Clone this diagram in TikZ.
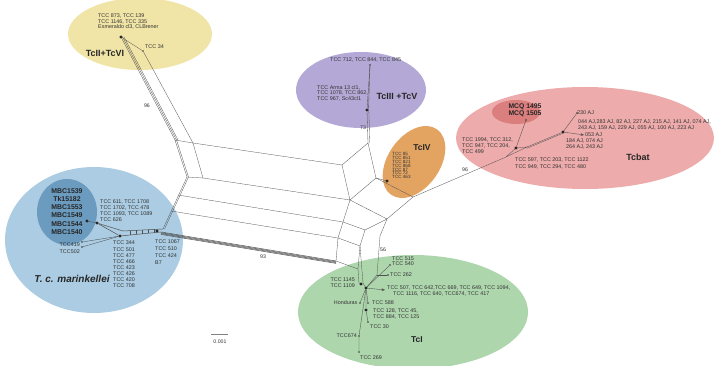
\documentclass[tikz,border=0pt]{standalone}
\usepackage{fontspec}
\setmainfont{Liberation Sans}
\usetikzlibrary{shapes.geometric,arrows.meta}
\definecolor{tcyellow}{HTML}{F0E4A6}
\definecolor{tcpurple}{HTML}{B4A9D6}
\definecolor{tcorange}{HTML}{E3A462}
\definecolor{tcpink}{HTML}{EDABAB}
\definecolor{tcrose}{HTML}{DB7E7E}
\definecolor{tcblue}{HTML}{ABCCE2}
\definecolor{tcnavy}{HTML}{6B9BBF}
\definecolor{tcgreen}{HTML}{AED6AD}
\definecolor{netgray}{HTML}{505050}
\definecolor{txtgray}{HTML}{333333}
\begin{document}
\begin{tikzpicture}[x=1pt, y=-1pt,
    cloud/.style={ellipse, inner sep=0pt},
    net/.style={draw=netgray, line width=0.3pt},
    bundle/.style={draw=netgray, line width=0.5pt},
    leaf/.style={draw=netgray, line width=0.35pt},
    tip/.style={leaf, -{Stealth[length=3.4pt, width=2.6pt]}},
    dot/.style={circle, fill=black!80, inner sep=0pt, minimum size=1.6pt},
    blob/.style={star, star points=6, fill=black!85, inner sep=0pt, minimum size=3.4pt},
    lbl/.style={font=\fontsize{5.4}{5.5}\selectfont, text=txtgray, inner sep=0pt, align=left},
    grp/.style={font=\bfseries\fontsize{9}{9}\selectfont, text=black!85, inner sep=0pt},
    boot/.style={font=\fontsize{5.2}{5.2}\selectfont, text=txtgray, inner sep=0pt},
    ]
\useasboundingbox (0,0) rectangle (716,366);
\node[cloud, fill=tcyellow, minimum width=144pt, minimum height=72pt] (TcIIcloud) at (140,34) {};
\node[cloud, fill=tcpurple, minimum width=130pt, minimum height=76pt] (TcIIIcloud) at (361,90) {};
\node[cloud, fill=tcorange, minimum width=80pt, minimum height=52pt, rotate=55] (TcIVcloud) at (414,162) {};
\node[cloud, fill=tcpink, minimum width=258pt, minimum height=102pt] (Tcbatcloud) at (585,138) {};
\node[cloud, fill=tcrose, minimum width=48pt, minimum height=24pt] (MCQcloud) at (516,112) {};
\node[cloud, fill=tcblue, minimum width=178pt, minimum height=146pt] (Tcmcloud) at (94,240) {};
\node[cloud, fill=tcnavy, minimum width=60pt, minimum height=66pt] (MBCcloud) at (67,212) {};
\node[cloud, fill=tcgreen, minimum width=230pt, minimum height=114pt] (TcIcloud) at (413,312) {};
\coordinate (bA) at (175,140);
\coordinate (bB) at (193,143);
\coordinate (bC) at (187,177);
\coordinate (bD) at (203,178);
\coordinate (r1) at (342,165);
\coordinate (r2) at (350,200);
\coordinate (r3) at (343,222);
\coordinate (r4) at (338,238);
\coordinate (r5) at (336,261);
\coordinate (l3) at (178,195);
\coordinate (l4) at (171,211);
\coordinate (mR) at (163,229);
\coordinate (mB) at (161,232);
\coordinate (r1u) at (368,143);
\coordinate (r2u) at (376,178);
\coordinate (bt) at (413,197);
\coordinate (r2b) at (387,219);
\coordinate (r3d) at (365,230);
\coordinate (r4d) at (360,246);
\coordinate (r5d) at (358,269);
\coordinate (s56) at (380,236);
\coordinate (c56) at (377,275);
\coordinate (ta) at (359,283);
\coordinate (tb) at (363,283);
\node[blob] (yN) at (121,37) {};
\node[dot] (y34) at (143,51) {};
\draw[net] (yN) -- (bA);
\draw[net] ([xshift=1.5pt]yN.center) -- ([xshift=1.5pt]bA);
\draw[net] ([xshift=3pt]yN.center) -- ([xshift=3pt]bA);
\draw[net] (yN) -- (y34) -- (bB);
\draw[net] (bA) -- (bB) -- (bD) -- (bC) -- cycle;
\draw[net] ([xshift=1.5pt]bA) -- ([xshift=1.5pt]bC);
\draw[net] (bB) -- (r1) -- (r2) -- (bD);
\draw[net] (bC) -- (mR);
\draw[net] ([xshift=1.5pt]bC) -- ([xshift=1.5pt]mR);
\draw[net] (l3) -- (r3);
\draw[net] (l4) -- (r4);
\draw[net] (r2) -- (r3) -- (r4) -- (r5);
\foreach \d in {0pt,-0.8pt,-1.6pt,-2.4pt}
  \draw[bundle] ([yshift=\d]mB) -- ([yshift=\d]r5);
\node[blob] (c3) at (367,110) {};
\node[dot] (l712) at (370,65) {};
\draw[net] (r1) -- (r1u) -- (r2u) -- (r2);
\draw[net] (r1u) -- (c3);
\draw[net] ([xshift=1.8pt]r1u) -- ([xshift=1.8pt]c3.center);
\draw[leaf] (c3) -- (l712);
\draw[leaf] ([xshift=1.5pt]c3.center) -- (l712);
\node[blob] (c4) at (387,181) {};
\draw[net] (r2u) -- (c4);
\draw[net] (r2u) -- (bt) -- (r2b) -- (r2);
\draw[net] (r3) -- (r3d);
\draw[net] (r4) -- (r4d);
\draw[net] (r5) -- (r5d);
\draw[net] (r2b) -- (r3d) -- (r4d) -- (r5d);
\draw[net] (r2b) -- (s56) -- (c56);
\draw[net] (r5d) -- (ta);
\draw[net] (r4d) -- (tb);
\node[blob] (t0) at (366,288) {};
\node[blob] (t1145) at (361,284) {};
\node[dot] (l515) at (390,265) {};
\node[dot] (l262) at (388,275) {};
\coordinate (a507) at (385,290);
\node[dot] (lHond) at (360,303) {};
\node[dot] (l588) at (368,303) {};
\node[blob] (t128) at (366,310) {};
\node[dot] (l30) at (368,322) {};
\node[dot] (l674) at (359,336) {};
\node[dot] (l269) at (359,352) {};
\draw[net] (ta) -- (t1145);
\draw[net] (tb) -- (t0);
\draw[leaf] (c56) -- (t0);
\draw[leaf] (t0) -- (l515);
\draw[leaf] (c56) -- (l262);
\draw[tip] (t0) -- (a507);
\draw[leaf] (t0) -- (lHond);
\draw[leaf] (t0) -- (l588);
\draw[leaf] (t0) -- (t128) -- (l30);
\draw[leaf] (t0) -- (l674) -- (l269);
\coordinate (tb1) at (506,157);
\node[blob] (tb2) at (516,148) {};
\coordinate (tb3) at (527,147);
\node[blob] (tb4) at (563,132) {};
\node[dot] (lmcq) at (526,120) {};
\node[dot] (l230) at (577,113) {};
\coordinate (a053) at (584,135);
\draw[net] (bt) -- (tb1) -- (tb2) -- (tb3) -- (tb1);
\draw[leaf] (tb2) -- (lmcq);
\draw[net] (tb3) -- (tb4);
\draw[net] ([yshift=-1.2pt]tb3) -- ([yshift=-1.2pt]tb4.center);
\draw[leaf] (tb4) -- (l230);
\draw[tip] (tb4) -- (a053);
\node[blob] (mStar) at (87,221) {};
\node[blob] (m1) at (97,223) {};
\coordinate (m2) at (123,231);
\node[blob] (m3) at (120,236) {};
\node[blob] (m1067) at (157,231) {};
\node[dot] (l419) at (82,242) {};
\node[dot] (l502) at (82,247) {};
\draw[net] (mStar) -- (m1);
\draw[bundle] (m1) -- (m2) -- (mR);
\draw[bundle] (m1) -- (m3) -- (mB);
\draw[leaf] (l419) -- (m3);
\draw[leaf] (l502) -- (m3);
\foreach \x in {130,136,142,148,154}
  \draw[net] (\x,{231-2*(\x-123)/40}) -- (\x,{236-4*(\x-120)/41});
\node[lbl, font=\fontsize{5.4}{5.3}\selectfont, anchor=north west] (yTxt) at (98,14) {TCC 873, TCC 139\\TCC 1146, TCC 335\\Esmeraldo cl3, CLBrener};
\node[grp] (yName) at (105,53) {TcII+TcVI};
\node[lbl, anchor=west] (t34) at (145,47) {TCC 34};
\node[lbl, anchor=west] (p712) at (330,60) {TCC 712, TCC 844, TCC 845};
\node[lbl, anchor=north west] (pArma) at (317,85) {TCC Arma 13 cl1,\\TCC 1078, TCC 862,\\TCC 967, Sc43cl1};
\node[grp] (pName) at (397,96) {TcIII +TcV};
\node[grp, font=\bfseries\fontsize{8.5}{8.5}\selectfont] (oName) at (422,148) {TcIV};
\node[lbl, font=\fontsize{4.6}{3.9}\selectfont, anchor=north west] (oTxt) at (392,152) {TCC 85\\TCC 851\\TCC 821\\TCC 868\\TCC 87\\TCC 72\\TCC 463};
\node[font=\bfseries\fontsize{6.8}{7.3}\selectfont, text=black!85, inner sep=0pt, align=center] (mcqTxt) at (525,110.5) {MCQ 1495\\MCQ 1505};
\node[lbl, anchor=west] (b230) at (577,113) {230 AJ};
\node[lbl, font=\fontsize{5.4}{6}\selectfont, anchor=north west] (b044) at (578,120) {044 AJ,283 AJ, 82 AJ, 227 AJ, 215 AJ, 141 AJ, 074 AJ,\\243 AJ, 159 AJ, 229 AJ, 055 AJ, 100 AJ, 223 AJ};
\node[lbl, anchor=west] (b053) at (585,135) {053 AJ};
\node[lbl, font=\fontsize{5.4}{6}\selectfont, anchor=north west] (b184) at (566,139) {184 AJ, 074 AJ\\264 AJ, 243 AJ};
\node[lbl, font=\fontsize{5.4}{6}\selectfont, anchor=north west] (b1994) at (462,138) {TCC 1994, TCC 312,\\TCC 947, TCC 204,\\TCC 499};
\node[lbl, font=\fontsize{5.4}{6.5}\selectfont, anchor=north west] (b597) at (515,158) {TCC 597, TCC 203, TCC 1122\\TCC 949, TCC 294, TCC 480};
\node[grp] (bName) at (638,157) {Tcbat};
\node[font=\bfseries\fontsize{6.9}{8.3}\selectfont, text=black!85, inner sep=0pt, align=center, anchor=north] (mbcTxt) at (67,188) {MBC1539\\Tk15182\\MBC1553\\MBC1549\\MBC1544\\MBC1540};
\node[lbl, font=\fontsize{5.4}{6}\selectfont, anchor=north west] (m611) at (100,200) {TCC 611, TCC 1708\\TCC 1702, TCC 478\\TCC 1093, TCC 1089\\TCC 626};
\node[lbl, font=\fontsize{5.4}{6.5}\selectfont, anchor=north east, align=right] (m419) at (80,243) {TCC419\\TCC502};
\node[lbl, font=\fontsize{5.4}{6.1}\selectfont, anchor=north west] (m344) at (113,241) {TCC 344\\TCC 501\\TCC 477\\TCC 466\\TCC 423\\TCC 426\\TCC 420\\TCC 708};
\node[lbl, font=\fontsize{5.4}{7}\selectfont, anchor=north west] (m1067t) at (155,240) {TCC 1067\\TCC 510\\TCC 424\\B7};
\node[font=\bfseries\itshape\fontsize{10}{10}\selectfont, text=black!85, inner sep=0pt] (mName) at (72,279) {T. c. marinkellei};
\node[lbl, anchor=south west] (i515) at (392,266) {TCC 515\\TCC 540};
\node[lbl, anchor=west] (i262) at (390,275) {TCC 262};
\node[lbl, font=\fontsize{5.4}{6}\selectfont, anchor=north west] (i507) at (387,286) {TCC 507, TCC 642,TCC 669, TCC 649, TCC 1094,\\\hspace*{6pt}TCC 1116, TCC 640, TCC674, TCC 417};
\node[lbl, font=\fontsize{5.4}{6}\selectfont, anchor=north east, align=right] (i1145) at (355,278) {TCC 1145\\TCC 1109};
\node[lbl, anchor=east] (iHond) at (357.5,303) {Honduras};
\node[lbl, anchor=west] (i588) at (372,303) {TCC 588};
\node[lbl, font=\fontsize{5.4}{6}\selectfont, anchor=north west] (i128) at (373,309) {TCC 128, TCC 45,\\TCC 884, TCC 125};
\node[lbl, anchor=west] (i30) at (370,327) {TCC 30};
\node[lbl, anchor=east] (i674) at (357,336) {TCC674};
\node[lbl, anchor=west] (i269) at (360,358) {TCC 269};
\node[grp, font=\bfseries\fontsize{8.5}{8.5}\selectfont] (iName) at (417,340) {TcI};
\node[boot] (bs96a) at (147,106) {96};
\node[boot] (bs73) at (363,128) {73};
\node[boot] (bs96b) at (465,170) {96};
\node[boot] (bs93) at (263,257) {93};
\node[boot] (bs56) at (383,250) {56};
\coordinate (sbL) at (211,334);
\coordinate (sbR) at (228,334);
\draw[draw=gray, line width=0.6pt] (sbL) -- (sbR);
\node[boot] (sbTxt) at (220,342) {0.001};
\end{tikzpicture}
\end{document}
